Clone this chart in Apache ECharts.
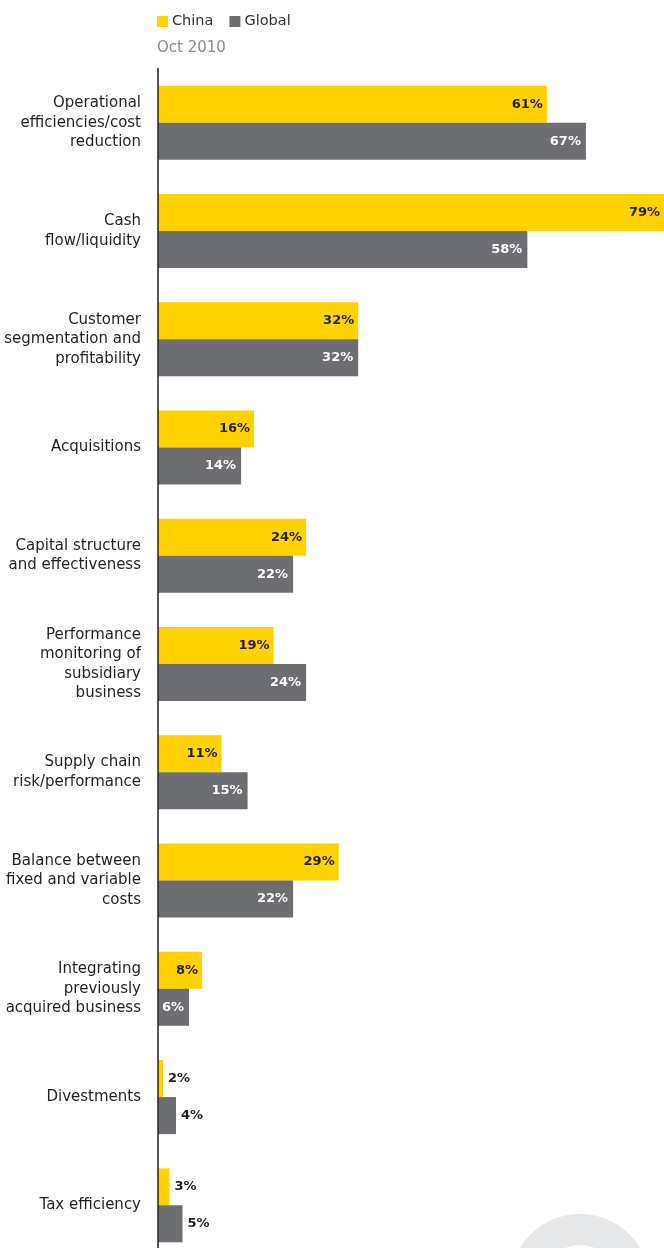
<!DOCTYPE html>
<html>
<head>
<meta charset="utf-8">
<script src="https://cdn.jsdelivr.net/npm/echarts@6/dist/echarts.min.js"></script>
<style>
  html, body { margin: 0; padding: 0; background: #fff; }
  #chart { width: 664px; height: 1248px; }
</style>
</head>
<body>
<div id="chart"></div>
<script>
// Categories, top to bottom
const categories = [
  'Operational\nefficiencies/cost\nreduction',
  'Cash\nflow/liquidity',
  'Customer\nsegmentation and\nprofitability',
  'Acquisitions',
  'Capital structure\nand effectiveness',
  'Performance\nmonitoring of\nsubsidiary\nbusiness',
  'Supply chain\nrisk/performance',
  'Balance between\nfixed and variable\ncosts',
  'Integrating\npreviously\nacquired business',
  'Divestments',
  'Tax efficiency'
];
// Share of respondents (%)
const china  = [61, 79, 32, 16, 24, 19, 11, 29, 8, 2, 3];
const global = [67, 58, 32, 14, 22, 24, 15, 22, 6, 4, 5];

const YELLOW = '#FFD200';
const GREY = '#6D6E71';
const INK = '#231F20';
const FONT = 'DejaVu Sans';

// Values too short to hold their label get it placed just past the bar end
function withLabels(values, insideColor) {
  return values.map(v => v <= 5
    ? { value: v, label: { position: 'right', color: INK, distance: 5 } }
    : { value: v, label: { color: insideColor } });
}

const chart = echarts.init(document.getElementById('chart'), null, { renderer: 'canvas' });
chart.setOption({
  animation: false,
  textStyle: { fontFamily: FONT },
  title: {
    text: 'Oct 2010',
    left: 152, top: 36,
    textStyle: { fontSize: 15, fontWeight: 'normal', color: '#8A8A8C', fontFamily: FONT }
  },
  legend: {
    left: 152, top: 9,
    icon: 'rect', itemWidth: 11, itemHeight: 11, itemGap: 16,
    textStyle: { fontSize: 14.5, color: '#333', fontFamily: FONT, padding: [0, 0, 0, -1] },
    data: ['China', 'Global']
  },
  // The value axis begins slightly above zero, so the bars start at the axis line;
  // the last band runs past the bottom edge of the page.
  grid: {
    left: 158, top: 68.5, width: 506, height: 1191,
    containLabel: false, outerBoundsMode: 'none'
  },
  xAxis: {
    type: 'value', min: 1.23, max: 79, show: false
  },
  yAxis: {
    type: 'category',
    data: categories,
    inverse: true,
    z: 5,
    axisLine: { lineStyle: { color: '#231F20', width: 1.5 } },
    axisTick: { show: false },
    axisLabel: {
      color: '#231F20', fontSize: 15, lineHeight: 19.5, margin: 17, align: 'right',
      fontFamily: FONT
    }
  },
  series: [
    {
      name: 'China', type: 'bar',
      data: withLabels(china, INK),
      itemStyle: { color: YELLOW },
      barWidth: 37, barGap: '0%',
      clip: true,
      label: {
        show: true, position: 'insideRight', distance: 4,
        formatter: '{c}%', fontSize: 13, fontWeight: 'bold', fontFamily: FONT
      }
    },
    {
      name: 'Global', type: 'bar',
      data: withLabels(global, '#FFFFFF'),
      itemStyle: { color: GREY },
      barWidth: 37, barGap: '0%',
      clip: true,
      label: {
        show: true, position: 'insideRight', distance: 5,
        formatter: '{c}%', fontSize: 13, fontWeight: 'bold', fontFamily: FONT
      }
    }
  ],
  graphic: [
    {
      type: 'ring', z: -1, silent: true,
      shape: { cx: 580, cy: 1284, r: 70, r0: 39 },
      style: { fill: '#E6E7E8' }
    }
  ]
});
</script>
</body>
</html>
